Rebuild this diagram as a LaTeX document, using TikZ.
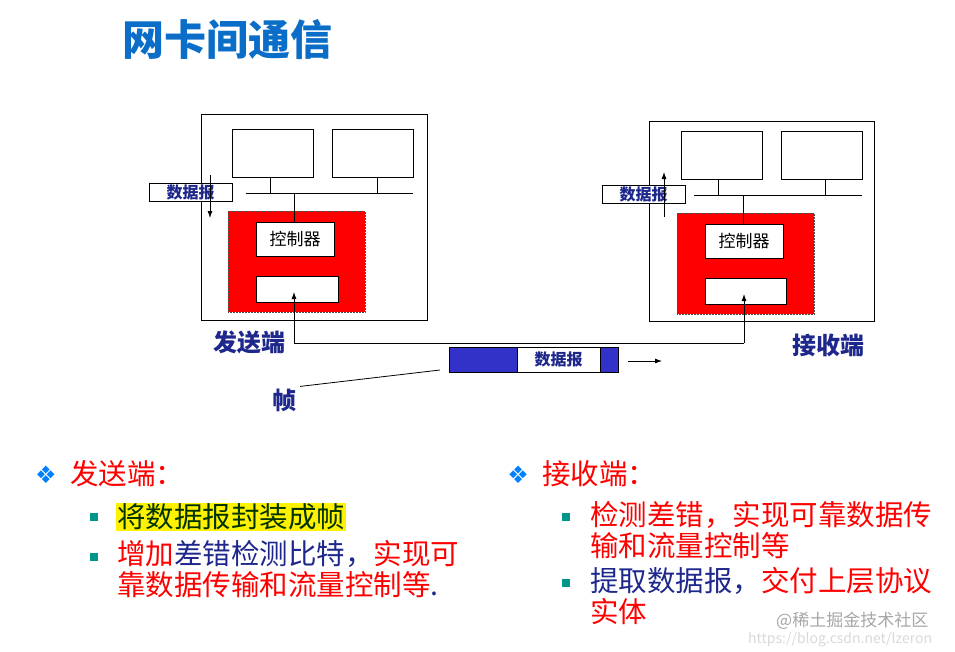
\documentclass[tikz,border=0pt]{standalone}
\usepackage{fontspec}
\setmainfont{Noto Sans CJK SC}
\newfontfamily\djv{DejaVu Sans}
\usetikzlibrary{arrows.meta}
\definecolor{navy}{RGB}{30,40,140}
\definecolor{ttl}{RGB}{10,110,200}
\definecolor{tl}{RGB}{0,150,140}
\definecolor{fblue}{RGB}{50,50,200}
\begin{document}
\begin{tikzpicture}[x=1pt,y=-1pt,
  box/.style={draw,fill=white,line width=0.8pt,inner sep=0pt},
  redbox/.style={draw=black!70,densely dotted,line width=0.5pt,fill=red,inner sep=0pt},
  ln/.style={line width=0.8pt},
  arr/.style={line width=0.8pt,-{Latex[length=7pt,width=5pt]}},
  lab/.style={text=navy,font=\fontsize{24}{26}\selectfont\bfseries,inner sep=0pt},
  txt/.style={font=\fontsize{28.5}{31}\selectfont,anchor=west,inner sep=0pt,align=left},
  bul/.style={font=\djv\fontsize{24}{24}\selectfont,text=blue!50!cyan,inner sep=0pt},
  sq/.style={fill=tl,minimum size=8pt,inner sep=0pt}]
\useasboundingbox (0,0) rectangle (955,651);
\node[text=ttl,font=\fontsize{42}{46}\selectfont\bfseries,anchor=west,inner sep=0pt] (title) at (122,40) {网卡间通信};
% left host
\draw[box] (201,114) rectangle (427,320);
\node[box,minimum width=81pt,minimum height=48pt] (l1) at (272.5,153) {};
\node[box,minimum width=81pt,minimum height=48pt] (l2) at (372.5,153) {};
\coordinate (lb1) at (246,193); \coordinate (lb2) at (413,193);
\draw[ln] (lb1) -- (lb2);
\draw[ln] (l1.south -| 270,0) -- (270,193);
\draw[ln] (l2.south -| 377,0) -- (377,193);
\node[redbox,minimum width=137pt,minimum height=101pt] (lr) at (296.5,261.5) {};
\node[box,minimum width=78pt,minimum height=34pt,font=\fontsize{17}{18}\selectfont] (lc) at (295,239) {控制器};
\node[box,minimum width=82pt,minimum height=26pt] (lp) at (297,289) {};
\draw[ln] (294,193) -- (lc.north -| 294,0);
\node[box,minimum width=83pt,minimum height=18pt,lab,font=\fontsize{16}{17}\selectfont\bfseries] (ld) at (190.5,192) {数据报};
\coordinate (la1) at (210,175); \coordinate (la2) at (210,218);
\draw[arr] (la1) -- (la2);
\node[lab] (lsend) at (249,342) {发送端};
% right host
\draw[box] (649,121) rectangle (874,321);
\node[box,minimum width=81pt,minimum height=48pt] (r1) at (721.5,155) {};
\node[box,minimum width=81pt,minimum height=48pt] (r2) at (821.5,155) {};
\draw[ln] (694,195) -- (862,195);
\draw[ln] (718,179) -- (718,195);
\draw[ln] (825,179) -- (825,195);
\node[redbox,minimum width=137pt,minimum height=101pt] (rr) at (745.5,263.5) {};
\node[box,minimum width=78pt,minimum height=34pt,font=\fontsize{17}{18}\selectfont] (rc) at (744,241) {控制器};
\node[box,minimum width=81pt,minimum height=26pt] (rp) at (745.5,291) {};
\draw[ln] (743,195) -- (rc.north -| 743,0);
\node[box,minimum width=83pt,minimum height=18pt,lab,font=\fontsize{16}{17}\selectfont\bfseries] (rd) at (643.5,194) {数据报};
\coordinate (ra1) at (664,217); \coordinate (ra2) at (664,172);
\draw[arr] (ra1) -- (ra2);
\node[lab] (rrecv) at (828,345) {接收端};
% link
\coordinate (k1) at (294,343); \coordinate (k2) at (744,343);
\draw[ln,-{Latex[length=7pt,width=5pt]}] (k2) -- (744,294);
\draw[ln,-{Latex[length=7pt,width=5pt]}] (k2) -- (k1) -- (294,292);
% frame
\node[draw,fill=fblue,minimum width=169pt,minimum height=25pt,inner sep=0pt] (fr) at (533.5,359.5) {};
\node[draw,fill=white,minimum width=83pt,minimum height=25pt,inner sep=0pt,lab,font=\fontsize{16}{17}\selectfont\bfseries] (fd) at (558.5,359.5) {数据报};
\coordinate (fa1) at (628,361); \coordinate (fa2) at (662,361);
\draw[arr] (fa1) -- (fa2);
\node[lab] (zh) at (284,400) {帧};
\draw[ln] (zh.north east) ++(4,-2) -- (440,370);
% bottom text
\node[bul] (b1) at (46,475) {❖};
\node[txt,text=red] (t1) at (70,474) {发送端：};
\node[sq] (s1) at (94,517) {};
\node[txt,fill=yellow,text=black!80!green,inner sep=1pt] (t2) at (116,517) {将数据报封装成帧};
\node[sq] (s2) at (94,557) {};
\node[txt,anchor=north west,text=red] (t3) at (117,540) {增加{\color{navy}差错检测比特，}实现可\\靠数据传输和流量控制等{\color{navy}.}};
\node[bul] (b2) at (518,475) {❖};
\node[txt,text=red] (t4) at (542,474) {接收端：};
\node[sq] (s3) at (566,517) {};
\node[txt,anchor=north west,text=red] (t5) at (590,501) {检测差错，实现可靠数据传\\输和流量控制等};
\node[sq] (s4) at (566,583) {};
\node[txt,anchor=north west,text=red] (t6) at (590,567) {{\color{navy}提取数据报，}交付上层协议\\实体};
\node[text=black!35,font=\fontsize{17}{18}\selectfont,inner sep=0pt,anchor=west] (wm) at (776,621) {@稀土掘金技术社区};
\node[text=black!15,font=\fontsize{14}{15}\selectfont,inner sep=0pt,anchor=west] (wm2) at (748,640) {https://blog.csdn.net/lzeron};
\end{tikzpicture}
\end{document}
